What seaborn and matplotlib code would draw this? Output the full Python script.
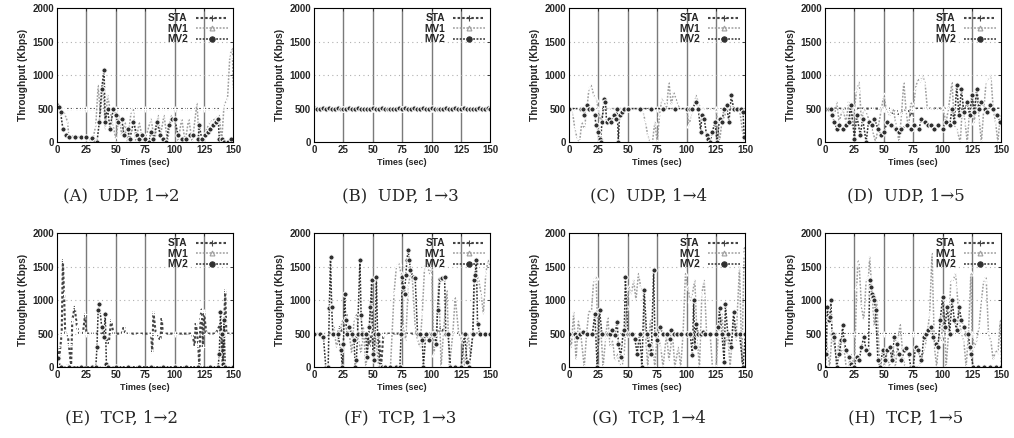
import matplotlib
matplotlib.use("Agg")
import matplotlib.pyplot as plt
import seaborn as sns
from matplotlib.lines import Line2D

# ---------------- data ----------------
# common grid used by the (mostly) flat series
FLAT_T = [0, 2.5, 5, 7.5, 10, 12.5, 15, 17.5, 20, 22.5, 25, 27.5, 30, 32.5, 35, 37.5, 40,
          42.5, 45, 47.5, 50, 52.5, 55, 57.5, 60, 62.5, 65, 67.5, 70, 72.5, 75, 77.5, 80,
          82.5, 85, 87.5, 90, 92.5, 95, 97.5, 100, 102.5, 105, 107.5, 110, 112.5, 115,
          117.5, 120, 122.5, 125, 127.5, 130, 132.5, 135, 137.5, 140, 142.5, 145, 147.5, 150]
FLAT_500 = [500, 500, 500, 500, 500, 500, 500, 500, 500, 500, 500, 500, 500, 500, 500, 500,
            500, 500, 500, 500, 500, 500, 500, 500, 500, 500, 500, 500, 500, 500, 500, 500,
            500, 500, 500, 500, 500, 500, 500, 500, 500, 500, 500, 500, 500, 500, 500, 500,
            500, 500, 500, 500, 500, 500, 500, 500, 500, 500, 500, 500, 500]

# (A) UDP 1->2
A_MV1_T = [0, 3, 6, 9, 10, 15, 20, 25, 30, 33, 35, 37, 39, 41, 43, 45, 47, 50, 53, 55, 58, 60,
           63, 65, 67, 70, 73, 76, 80, 83, 86, 88, 91, 94, 97, 100, 103, 106, 109, 112, 115,
           119, 121, 125, 130, 135, 138, 140, 142, 145, 147, 149, 150]
A_MV1 = [450, 500, 450, 300, 100, 80, 80, 60, 0, 250, 850, 400, 900, 200, 700, 500, 300, 50,
         400, 100, 300, 0, 450, 500, 0, 300, 0, 100, 350, 0, 400, 100, 400, 0, 400, 300, 0, 350,
         0, 350, 0, 580, 0, 100, 300, 350, 400, 0, 550, 650, 1300, 1400, 800]
A_MV2_T = [0, 2, 3, 5, 8, 10, 15, 20, 25, 30, 32, 34, 36, 38, 40, 41, 43, 45, 48, 50, 52, 55,
           57, 60, 62, 65, 68, 70, 72, 75, 78, 80, 82, 85, 88, 90, 93, 95, 98, 100, 103, 106,
           110, 113, 116, 120, 121, 123, 126, 128, 130, 133, 135, 137, 138, 140, 142, 145, 148]
A_MV2 = [550, 530, 450, 200, 100, 80, 80, 70, 70, 60, 0, 0, 300, 800, 1080, 300, 500, 200,
         500, 400, 300, 350, 100, 200, 50, 300, 100, 50, 100, 50, 0, 150, 50, 300, 100, 50, 0,
         250, 350, 350, 100, 50, 50, 100, 100, 50, 250, 50, 100, 150, 200, 250, 300, 350, 50,
         50, 0, 0, 50]

# (B) UDP 1->3
B_MV1 = [500, 495, 505, 500, 498, 503, 500, 497, 502, 500, 499, 504, 500, 496, 502, 500,
         501, 498, 503, 500, 497, 501, 500, 504, 499, 500, 502, 497, 500, 503, 500, 498,
         502, 500, 497, 501, 500, 503, 499, 500, 496, 502, 500, 498, 503, 500, 501, 497,
         500, 504, 500, 498, 502, 500, 497, 501, 500, 503, 499, 500, 500]
B_MV2 = [505, 500, 497, 503, 500, 502, 498, 500, 505, 499, 500, 497, 502, 500, 498, 503,
         500, 501, 497, 500, 503, 499, 500, 505, 500, 497, 501, 500, 498, 502, 500, 503,
         497, 500, 502, 499, 500, 504, 498, 500, 503, 500, 497, 501, 500, 505, 499, 500,
         502, 497, 500, 503, 500, 498, 501, 500, 504, 497, 500, 502, 500]

# (C) UDP 1->4
C_MV1_T = [0, 3, 5, 7, 9, 11, 13, 15, 17, 19, 21, 23, 25, 27, 30, 35, 45, 50, 60, 63, 65,
           67, 69, 71, 73, 75, 77, 79, 81, 83, 85, 87, 89, 91, 93, 95, 100, 102, 104, 106,
           108, 110, 112, 115, 120, 125, 128, 130, 135, 140, 145, 148, 149]
C_MV1 = [500, 450, 200, 50, 0, 300, 200, 450, 800, 850, 700, 650, 500, 300, 500, 500, 500,
         500, 500, 450, 300, 100, 0, 0, 300, 0, 400, 650, 600, 500, 900, 550, 750, 650, 550,
         500, 500, 250, 400, 550, 700, 600, 500, 500, 500, 500, 0, 300, 500, 500, 500, 100, 0]
C_MV2_T = [0, 10, 12, 13, 15, 17, 20, 22, 23, 25, 26, 27, 28, 30, 31, 32, 34, 36, 38, 40, 41,
           42, 43, 45, 47, 50, 60, 70, 80, 90, 100, 103, 105, 108, 110, 112, 113, 115, 117,
           118, 120, 122, 124, 126, 128, 130, 132, 134, 136, 138, 140, 143, 146, 148, 149]
C_MV2 = [500, 500, 500, 400, 550, 500, 500, 400, 250, 150, 50, 0, 300, 650, 600, 300, 350,
         300, 400, 350, 500, 0, 400, 450, 500, 500, 500, 500, 500, 500, 500, 500, 500, 600,
         500, 150, 400, 350, 100, 50, 0, 150, 300, 0, 350, 300, 500, 550, 300, 700, 500, 500,
         500, 450, 80]

# (D) UDP 1->5
D_STA_T = [0, 10, 20, 30, 40, 50, 55, 58, 60, 63, 66, 70, 73, 75, 80, 85, 90, 95, 100, 105,
           110, 115, 120, 125, 130, 135, 140, 145, 150]
D_STA = [500, 500, 500, 500, 500, 500, 500, 420, 500, 400, 450, 500, 380, 500, 500, 500,
         500, 500, 500, 500, 500, 480, 520, 500, 500, 480, 500, 500, 500]
D_MV1_T = [0, 5, 8, 10, 12, 15, 18, 20, 22, 25, 27, 29, 31, 33, 35, 40, 43, 45, 48, 50, 52,
           55, 58, 60, 63, 65, 67, 69, 71, 73, 75, 77, 79, 81, 83, 85, 87, 90, 95, 100, 103,
           105, 108, 110, 112, 115, 117, 119, 121, 123, 125, 127, 129, 131, 133, 135, 137,
           139, 141, 143, 145, 147, 149]
D_MV1 = [500, 500, 400, 600, 300, 500, 300, 600, 250, 500, 800, 900, 300, 500, 450, 200, 0,
         200, 500, 700, 500, 400, 500, 300, 0, 400, 900, 450, 200, 600, 500, 800, 950, 900,
         1000, 900, 500, 500, 500, 500, 300, 500, 900, 250, 200, 0, 600, 300, 0, 500, 700,
         300, 800, 350, 0, 500, 900, 950, 1000, 500, 300, 0, 400]
D_MV2_T = [0, 3, 5, 6, 8, 10, 12, 15, 18, 20, 22, 25, 27, 30, 32, 35, 37, 40, 42, 45, 48, 50,
           53, 56, 60, 63, 65, 70, 73, 76, 80, 82, 85, 88, 90, 93, 96, 100, 103, 106, 108,
           110, 112, 114, 116, 118, 121, 123, 125, 127, 129, 131, 133, 136, 138, 140, 143,
           146, 149]
D_MV2 = [500, 500, 500, 400, 300, 200, 250, 200, 250, 300, 550, 50, 400, 100, 350, 0, 300,
         250, 350, 200, 100, 150, 300, 250, 200, 150, 200, 250, 200, 250, 200, 350, 300, 250,
         250, 200, 250, 200, 300, 250, 500, 300, 850, 400, 800, 450, 600, 400, 700, 450, 800,
         500, 600, 500, 450, 550, 500, 400, 300]

# (E) TCP 1->2
E_STA_T = [0, 2, 4, 5, 6, 7, 9, 10, 12, 13, 15, 17, 19, 22, 24, 25, 30, 35, 40, 44, 46, 48,
           55, 57, 58, 60, 70, 80, 81, 82, 84, 88, 89, 90, 100, 115, 117, 118, 120, 121, 122,
           123, 124, 125, 127, 135, 139, 141, 143, 144, 150]
E_STA = [300, 150, 500, 1600, 1100, 500, 500, 350, 0, 700, 900, 600, 500, 500, 800, 500, 500,
         500, 500, 350, 700, 500, 500, 620, 500, 500, 500, 500, 220, 820, 500, 400, 750, 500,
         500, 500, 320, 680, 350, 0, 750, 860, 300, 820, 500, 500, 650, 0, 1150, 500, 500]
E_MV1_T = [0, 8, 9, 10, 20, 30, 40, 50, 60, 70, 80, 90, 100, 110, 120, 130, 140, 150]
E_MV1 = [0, 0, 50, 0, 0, 0, 0, 0, 0, 0, 0, 0, 0, 0, 0, 0, 0, 0]
E_MV2_T = [0, 1, 3, 10, 20, 30, 33, 34, 35, 36, 38, 40, 41, 42, 43, 50, 60, 70, 80, 90, 100,
           110, 120, 130, 137, 138, 139, 140, 141, 142, 143, 150]
E_MV2 = [120, 130, 0, 0, 0, 0, 0, 300, 850, 950, 600, 450, 800, 50, 0, 0, 0, 0, 0, 0, 0, 0,
         0, 0, 0, 200, 830, 500, 50, 700, 0, 0]

# (F) TCP 1->3
F_STA_T = [0, 8, 10, 12, 20, 22, 24, 30, 35, 37, 45, 47, 49, 55, 57, 59, 65, 75, 80, 90, 93,
           95, 100, 105, 108, 110, 115, 120, 130, 135, 140, 145, 150]
F_STA = [500, 500, 450, 500, 500, 600, 500, 500, 400, 500, 500, 300, 500, 500, 0, 500, 500,
         500, 500, 500, 400, 500, 500, 500, 600, 500, 500, 500, 500, 500, 500, 500, 500]
F_MV1_T = [0, 10, 15, 17, 19, 22, 24, 26, 28, 30, 32, 34, 36, 38, 40, 42, 44, 46, 48, 50, 52,
           55, 60, 65, 68, 70, 72, 74, 76, 78, 80, 83, 86, 88, 90, 92, 94, 96, 98, 100, 102,
           104, 106, 108, 110, 113, 115, 118, 120, 123, 126, 128, 131, 133, 135, 137, 140,
           142, 144, 146, 148, 150]
F_MV1 = [500, 500, 500, 600, 300, 500, 700, 600, 800, 500, 200, 700, 800, 400, 200, 600, 0,
         300, 1000, 300, 500, 0, 0, 0, 1100, 1500, 1550, 1400, 600, 400, 1200, 1500, 600, 400,
         300, 800, 1500, 1550, 1400, 1500, 200, 500, 1300, 0, 500, 1150, 0, 500, 1050, 500,
         400, 0, 500, 150, 450, 1450, 1300, 1100, 800, 1400, 1600, 1500]
F_MV2_T = [0, 5, 8, 10, 12, 13, 14, 15, 16, 20, 23, 24, 25, 26, 27, 28, 30, 32, 34, 35, 36,
           37, 39, 40, 41, 44, 45, 47, 48, 49, 50, 51, 52, 53, 54, 56, 58, 60, 65, 70, 73, 74,
           75, 76, 77, 78, 79, 80, 81, 82, 84, 86, 88, 90, 92, 93, 95, 98, 100, 102, 104, 105,
           107, 109, 111, 112, 114, 116, 120, 125, 128, 130, 132, 135, 136, 137, 138, 139, 141,
           145, 150]
F_MV2 = [500, 500, 450, 0, 0, 880, 1650, 900, 500, 500, 250, 0, 350, 1100, 700, 500, 600,
         500, 400, 0, 100, 500, 1600, 780, 500, 500, 150, 600, 900, 1300, 200, 100, 500, 1350,
         500, 0, 0, 0, 0, 0, 0, 500, 1350, 1200, 1100, 1380, 1600, 1750, 1600, 1450, 1350,
         1330, 500, 500, 400, 0, 500, 400, 500, 500, 350, 850, 1320, 1330, 1350, 500, 500, 0,
         0, 0, 500, 80, 0, 500, 1300, 1380, 1600, 650, 500, 500, 500]

# (G) TCP 1->4
G_MV1_T = [0, 2, 4, 6, 8, 10, 13, 15, 17, 19, 21, 23, 25, 27, 29, 31, 33, 35, 37, 39, 41, 43,
           45, 47, 49, 51, 53, 55, 57, 59, 61, 63, 65, 67, 69, 71, 73, 75, 78, 80, 83, 85, 88,
           90, 93, 95, 97, 99, 101, 103, 105, 107, 109, 111, 113, 115, 117, 120, 122, 125, 127,
           130, 132, 135, 137, 140, 142, 145, 147, 149, 150]
G_MV1 = [500, 300, 820, 100, 700, 500, 0, 500, 850, 800, 1300, 1350, 300, 600, 0, 400, 750,
         300, 400, 100, 200, 50, 0, 200, 900, 1200, 1100, 1300, 1000, 1400, 1200, 1100, 500, 0,
         700, 350, 0, 500, 300, 0, 500, 100, 500, 0, 300, 0, 500, 1400, 1200, 1000, 1100, 1300,
         400, 0, 1100, 1300, 500, 500, 0, 0, 500, 800, 300, 500, 0, 700, 400, 1500, 50, 1800,
         1700]
G_MV2_T = [0, 5, 7, 9, 12, 15, 20, 22, 24, 26, 28, 33, 35, 37, 39, 41, 42, 44, 46, 47, 48, 50,
           52, 54, 56, 58, 60, 62, 64, 66, 68, 70, 72, 73, 75, 77, 80, 83, 86, 87, 89, 92, 95,
           100, 103, 105, 106, 107, 108, 110, 112, 114, 116, 120, 125, 127, 128, 130, 132, 133,
           135, 138, 140, 142, 145, 148, 150]
G_MV2 = [500, 500, 450, 500, 520, 500, 500, 800, 0, 850, 500, 500, 500, 550, 480, 680, 350,
         150, 500, 550, 1350, 500, 500, 500, 420, 200, 500, 0, 1150, 500, 330, 200, 1450, 500,
         400, 600, 500, 500, 420, 560, 500, 500, 500, 500, 500, 180, 1000, 300, 650, 500, 500,
         530, 500, 500, 500, 600, 880, 500, 80, 940, 500, 300, 820, 500, 500, 0, 500]

# (H) TCP 1->5
H_MV1_T = [0, 2, 4, 6, 8, 10, 12, 14, 16, 18, 20, 22, 25, 27, 28, 29, 31, 33, 35, 37, 38, 40,
           42, 44, 46, 48, 50, 52, 55, 58, 60, 62, 64, 66, 68, 70, 75, 80, 85, 87, 89, 91, 93,
           95, 97, 99, 101, 103, 105, 107, 109, 111, 112, 114, 116, 118, 120, 122, 124, 125,
           127, 129, 131, 133, 135, 137, 139, 141, 143, 145, 147, 149, 150]
H_MV1 = [500, 300, 0, 500, 300, 100, 400, 200, 300, 0, 0, 200, 0, 1200, 1600, 1550, 900, 700,
         1300, 1350, 1650, 1100, 600, 1000, 200, 0, 0, 200, 0, 300, 0, 400, 650, 200, 0, 0, 0,
         0, 300, 500, 800, 1700, 300, 0, 500, 400, 1000, 0, 500, 1300, 1300, 1400, 1200, 700,
         500, 400, 0, 500, 1400, 500, 300, 400, 600, 1000, 1300, 1350, 500, 400, 100, 250,
         200, 700, 0]
H_MV2_T = [0, 1, 2, 3, 4, 5, 6, 7, 8, 10, 12, 14, 15, 16, 18, 20, 22, 24, 25, 27, 29, 31, 33,
           35, 37, 38, 39, 40, 41, 42, 43, 45, 47, 49, 51, 53, 55, 57, 59, 61, 63, 65, 67, 69,
           71, 73, 75, 77, 79, 82, 84, 86, 88, 90, 92, 94, 96, 98, 100, 102, 104, 106, 108,
           110, 112, 114, 116, 118, 120, 122, 123, 124, 126, 130, 135, 140, 145, 150]
H_MV2 = [0, 200, 900, 700, 750, 1000, 500, 500, 450, 0, 200, 400, 630, 400, 250, 150, 50, 0,
         0, 150, 100, 300, 450, 250, 200, 1300, 1200, 1100, 1050, 1000, 850, 100, 0, 250, 100,
         250, 300, 100, 450, 350, 200, 100, 250, 280, 200, 0, 0, 300, 250, 100, 450, 500, 550,
         600, 450, 350, 300, 700, 1050, 600, 900, 500, 1000, 700, 550, 900, 700, 600, 500,
         500, 300, 200, 0, 0, 0, 0, 0, 0]

CAPTIONS = ["(A)  UDP, 1\u21922", "(B)  UDP, 1\u21923", "(C)  UDP, 1\u21924", "(D)  UDP, 1\u21925",
            "(E)  TCP, 1\u21922", "(F)  TCP, 1\u21923", "(G)  TCP, 1\u21924", "(H)  TCP, 1\u21925"]

PANELS = [
    [(FLAT_T, FLAT_500), (A_MV1_T, A_MV1), (A_MV2_T, A_MV2)],
    [(FLAT_T, FLAT_500), (FLAT_T, B_MV1), (FLAT_T, B_MV2)],
    [(FLAT_T, FLAT_500), (C_MV1_T, C_MV1), (C_MV2_T, C_MV2)],
    [(D_STA_T, D_STA), (D_MV1_T, D_MV1), (D_MV2_T, D_MV2)],
    [(E_STA_T, E_STA), (E_MV1_T, E_MV1), (E_MV2_T, E_MV2)],
    [(F_STA_T, F_STA), (F_MV1_T, F_MV1), (F_MV2_T, F_MV2)],
    [(FLAT_T, FLAT_500), (G_MV1_T, G_MV1), (G_MV2_T, G_MV2)],
    [(FLAT_T, FLAT_500), (H_MV1_T, H_MV1), (H_MV2_T, H_MV2)],
]

# ---------------- styling ----------------
sns.set_style("white")
plt.rcParams["font.family"] = ["Liberation Sans", "DejaVu Sans"]

DOTS = (0, (1.2, 1.0))
STYLES = [
    dict(label="STA", color="#454545", marker="+", markersize=4, lw=1.5),
    dict(label="MV1", color="#9e9e9e", marker="^", markersize=3.5, lw=1.1,
         markerfacecolor="none"),
    dict(label="MV2", color="#303030", marker="o", markersize=3.8, lw=1.1),
]

fig = plt.figure(figsize=(10.14, 4.38), dpi=100)

lefts = [0.0562, 0.3097, 0.5611, 0.8136]
bottoms = [0.6758, 0.1621]
cap_x = [0.120, 0.395, 0.640, 0.893]
cap_y = [0.553, 0.046]

for i, series in enumerate(PANELS):
    row, col = divmod(i, 4)
    ax = fig.add_axes([lefts[col], bottoms[row], 0.1740, 0.305])

    # gnuplot-ish grid: solid vertical, dotted horizontal
    for gx in [25, 50, 75, 100, 125]:
        ax.axvline(gx, color="#7a7a7a", lw=1.0, zorder=0)
    for gy in [500, 1000, 1500]:
        ax.axhline(gy, color="#b0b0b0", lw=0.8, ls=(0, (1, 3)), zorder=0)

    for (t, v), st in zip(series, STYLES):
        kw = {k: val for k, val in st.items() if k not in ("label", "lw")}
        sns.lineplot(x=t, y=v, ax=ax, linestyle=DOTS, linewidth=st["lw"],
                     markeredgewidth=0.8, legend=False, **kw)

    ax.set_xlim(0, 150)
    ax.set_ylim(0, 2000)
    ax.set_xticks([0, 25, 50, 75, 100, 125, 150])
    ax.set_yticks([0, 500, 1000, 1500, 2000])
    ax.tick_params(direction="in", length=2.5, width=0.6, labelsize=7, pad=2,
                   top=True, right=True)
    for lab in ax.get_xticklabels() + ax.get_yticklabels():
        lab.set_fontweight("bold")
    ax.set_xlabel("Times (sec)", fontsize=6.5, fontweight="bold", labelpad=2)
    ax.set_ylabel("Throughput (Kbps)", fontsize=7.3, fontweight="bold", labelpad=3)
    for sp in ax.spines.values():
        sp.set_color("black")
        sp.set_linewidth(0.8)

    handles = [Line2D([0, 0.5, 1], [0, 0, 0], color=st["color"], ls=DOTS, lw=st["lw"],
                      marker=st["marker"], markersize=st["markersize"], markeredgewidth=0.8,
                      markerfacecolor=st.get("markerfacecolor", st["color"]), markevery=[1])
               for st in STYLES]
    ax.legend(handles, [s["label"] for s in STYLES], loc="upper right",
              frameon=False, markerfirst=False, handlelength=3.2,
              handletextpad=0.8, labelspacing=0.05, borderaxespad=0.1,
              prop={"weight": "bold", "size": 7.3})

    fig.text(cap_x[col], cap_y[row], CAPTIONS[i], ha="center", va="center",
             fontsize=12, family=["DejaVu Serif"])

fig.savefig("out.png", dpi=100)
